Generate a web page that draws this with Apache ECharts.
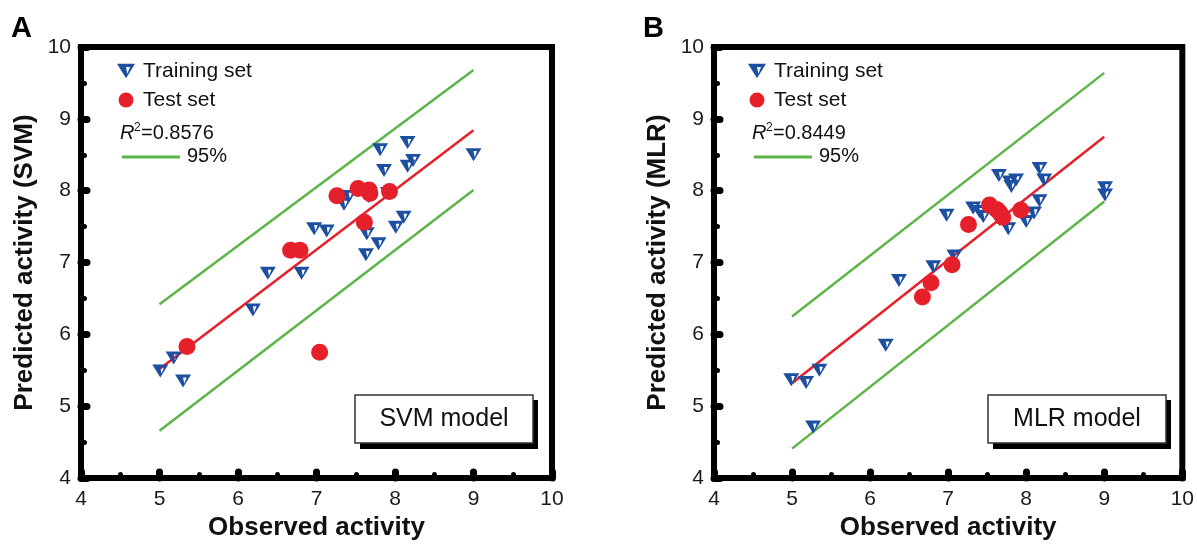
<!DOCTYPE html>
<html>
<head>
<meta charset="utf-8">
<script src="https://cdn.jsdelivr.net/npm/echarts@6/dist/echarts.min.js"></script>
<style>
html,body{margin:0;padding:0;background:#fff;}
#chart{width:1197px;height:546px;}
</style>
</head>
<body>
<div id="chart"></div>
<script>
// ---- Data ----
const axisMin = 4, axisMax = 10, axisStep = 1;

// Panel A: SVM model
const trainA = [
  [5.01,5.49],[5.18,5.67],[5.30,5.35],[6.19,6.34],[6.38,6.85],[6.81,6.85],
  [6.97,7.47],[7.13,7.44],[7.35,7.81],[7.41,7.92],[7.66,7.92],[7.91,7.96],
  [7.64,7.40],[7.79,7.26],[7.63,7.11],[8.01,7.49],[8.11,7.63],[7.81,8.57],
  [8.16,8.67],[9.00,8.50],[7.86,8.28],[8.16,8.34],[8.23,8.42]
];
const testA = [
  [5.35,5.83],[6.67,7.17],[6.79,7.17],[7.04,5.75],[7.26,7.93],
  [7.53,8.03],[7.67,8.01],[7.68,7.96],[7.93,7.99],[7.61,7.56]
];
const fitA   = [[5,5.52],[9,8.84]];
const upperA = [[5,6.42],[9,9.68]];
const lowerA = [[5,4.66],[9,8.01]];
const r2A = '=0.8576';

// Panel B: MLR model
const trainB = [
  [4.99,5.37],[5.18,5.33],[5.35,5.50],[5.27,4.71],[6.20,5.85],[6.37,6.75],
  [6.81,6.94],[6.98,7.66],[7.08,7.09],[7.32,7.76],[7.40,7.71],[7.45,7.64],
  [7.65,8.21],[7.79,8.12],[7.87,8.15],[7.81,8.06],[8.17,8.31],[8.23,8.15],
  [8.17,7.86],[8.10,7.69],[8.00,7.57],[7.77,7.47],[7.66,7.60],[9.01,8.04],[9.01,7.94]
];
const testB = [
  [6.67,6.52],[6.78,6.72],[7.05,6.97],[7.26,7.53],[7.53,7.80],
  [7.65,7.71],[7.70,7.63],[7.93,7.73],[7.62,7.74],[7.67,7.68]
];
const fitB   = [[5,5.32],[9,8.75]];
const upperB = [[5,6.25],[9,9.64]];
const lowerB = [[5,4.41],[9,7.85]];
const r2B = '=0.8449';

const xTitle = 'Observed activity';
const yTitles = ['Predicted activity (SVM)', 'Predicted activity (MLR)'];
const modelNames = ['SVM model', 'MLR model'];
const panelLetters = ['A', 'B'];
const legendNames = ['Training set', 'Test set'];

// ---- Styling ----
const FONT = '"Liberation Sans", Arial, sans-serif';
const BLUE = '#1d4fa1';
const RED = '#e5202a';
const GREEN = '#5cb547';
const TRI = 'path://M0,0 L20,0 L10,16 Z M10,3.5 L11.5,11 L14.5,3.5 Z';

const grids = [
  {left: 81, top: 47, width: 471, height: 436},
  {left: 714, top: 47, width: 469, height: 436}
];

const tickStyle = {
  axisLine: {show: true, lineStyle: {color: '#000', width: 6}},
  axisTick: {show: true, inside: true, length: 6, lineStyle: {color: '#000', width: 7, cap: 'round'}},
  minorTick: {show: true, splitNumber: 2, length: 3.5, lineStyle: {color: '#000', width: 5, cap: 'round'}},
  splitLine: {show: false}
};

function xAxisFor(i) {
  return Object.assign({
    gridIndex: i, type: 'value', min: axisMin, max: axisMax, interval: axisStep,
    name: xTitle, nameLocation: 'middle', nameGap: 36,
    nameTextStyle: {fontFamily: FONT, fontSize: 26, fontWeight: 'bold', color: '#111'},
    axisLabel: {fontFamily: FONT, fontSize: 21, color: '#1a1a1a', margin: 11}
  }, tickStyle);
}
function yAxisFor(i) {
  return Object.assign({
    gridIndex: i, type: 'value', min: axisMin, max: axisMax, interval: axisStep,
    name: yTitles[i], nameLocation: 'middle', nameGap: 43,
    nameTextStyle: {fontFamily: FONT, fontSize: 26, fontWeight: 'bold', color: '#111'},
    axisLabel: {fontFamily: FONT, fontSize: 21, color: '#1a1a1a', margin: 10}
  }, tickStyle);
}

function seriesFor(i, train, test, fit, upper, lower) {
  const lineBase = {type: 'line', xAxisIndex: i, yAxisIndex: i, symbol: 'none', silent: true, z: 2};
  return [
    Object.assign({}, lineBase, {name: '95% upper ' + i, data: upper, lineStyle: {color: GREEN, width: 2.5}}),
    Object.assign({}, lineBase, {name: '95% lower ' + i, data: lower, lineStyle: {color: GREEN, width: 2.5}}),
    Object.assign({}, lineBase, {name: 'fit ' + i, data: fit, lineStyle: {color: RED, width: 2.5}}),
    {type: 'scatter', name: legendNames[0], xAxisIndex: i, yAxisIndex: i, data: train,
     symbol: TRI, symbolSize: [16, 13], itemStyle: {color: BLUE, opacity: 1}, z: 3},
    {type: 'scatter', name: legendNames[1], xAxisIndex: i, yAxisIndex: i, data: test,
     symbol: 'circle', symbolSize: 17, itemStyle: {color: RED, opacity: 1}, z: 4}
  ];
}

function legendFor(left) {
  return {
    show: true, orient: 'vertical', left: left, top: 55.5,
    itemWidth: 18, itemHeight: 15, itemGap: 8, selectedMode: false,
    textStyle: {fontFamily: FONT, fontSize: 21, color: '#111', lineHeight: 21, padding: [0, 0, 0, 3]},
    data: [
      {name: legendNames[0], icon: TRI, itemStyle: {color: BLUE}},
      {name: legendNames[1], icon: 'circle', itemStyle: {color: RED}}
    ]
  };
}

function panelGraphics(dx, r2, model, letter, boxLeft) {
  const t = (txt, x, y, extra) => ({
    type: 'text', x: x, y: y, z: 10,
    style: Object.assign({text: txt, fontFamily: FONT, fontSize: 20, fill: '#111',
      textAlign: 'left', textVerticalAlign: 'middle', verticalAlign: 'middle'}, extra || {})
  });
  return [
    t(letter, 11 + dx, 29, {fontSize: 29, fontWeight: 'bold', fill: '#000'}),
    t('R', 120 + dx, 133, {fontStyle: 'italic'}),
    t('2', 134 + dx, 128, {fontSize: 12}),
    t(r2, 141 + dx, 133),
    {type: 'line', z: 10, shape: {x1: 122 + dx, y1: 157, x2: 180 + dx, y2: 157},
     style: {stroke: GREEN, lineWidth: 3}},
    t('95%', 187 + dx, 156),
    {type: 'rect', z: 10, shape: {x: boxLeft + 5, y: 400, width: 178, height: 49},
     style: {fill: '#000'}},
    {type: 'rect', z: 11, shape: {x: boxLeft, y: 395, width: 178, height: 48},
     style: {fill: '#fff', stroke: '#333', lineWidth: 1.5}},
    {type: 'text', z: 12, x: boxLeft + 89, y: 419,
     style: {text: model, fontFamily: FONT, fontSize: 25, fill: '#111',
       textAlign: 'center', textVerticalAlign: 'middle', verticalAlign: 'middle'}}
  ];
}

const chart = echarts.init(document.getElementById('chart'), null, {renderer: 'canvas'});
chart.setOption({
  animation: false,
  backgroundColor: '#fff',
  grid: grids.map(g => Object.assign({show: true, borderColor: '#000', borderWidth: 6, backgroundColor: 'transparent'}, g)),
  xAxis: [xAxisFor(0), xAxisFor(1)],
  yAxis: [yAxisFor(0), yAxisFor(1)],
  legend: [legendFor(112), legendFor(743)],
  series: [].concat(
    seriesFor(0, trainA, testA, fitA, upperA, lowerA),
    seriesFor(1, trainB, testB, fitB, upperB, lowerB)
  ),
  graphic: [].concat(
    panelGraphics(0, r2A, modelNames[0], panelLetters[0], 355),
    panelGraphics(632, r2B, modelNames[1], panelLetters[1], 988)
  )
});
</script>
</body>
</html>
